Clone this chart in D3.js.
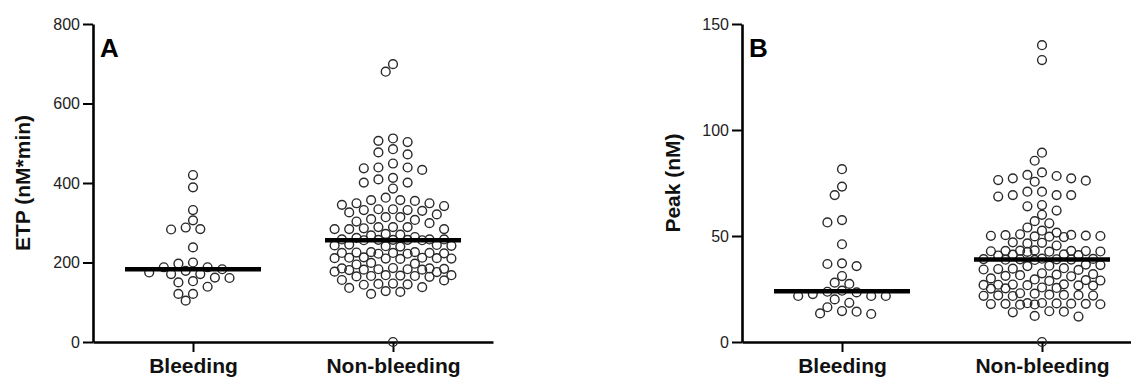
<!DOCTYPE html>
<html><head><meta charset="utf-8">
<script src="https://cdn.jsdelivr.net/npm/d3@7"></script>
<style>
body{margin:0;background:#fff}
text{font-family:"Liberation Sans",Arial,Helvetica,sans-serif}
</style>
</head><body>
<svg id="c" width="1131" height="378"></svg>
<script>
const categories = ["Bleeding", "Non-bleeding"];

const etpBleeding = [420,389,332,306,288,283,284,238,200,197,188,188,183,179,175,171,171,162,161,153,150,139,121,121,104];
const etpNonBleeding = [699,680,
  512,503,506,472,477,485,437,439,439,449,433,413,401,409,401,386,
  357,363,349,349,355,357,345,342,334,332,330,321,326,332,334,314,307,309,314,299,303,
  289,286,284,284,284,289,289,270,272,268,264,262,
  258,257,256,258,257,256,258,257,
  245,242,240,243,241,244,
  226,224,222,225,223,224,226,222,224,
  213,211,210,212,211,209,212,210,
  199,197,195,
  185,183,182,184,186,181,183,185,182,
  177,176,
  168,166,165,167,164,166,168,
  156,155,
  147,145,146,144,
  138,136,
  128,126,
  121,
  0];

const peakBleeding = [81.5,73.3,69.3,57.5,56.4,46.1,36.8,35.8,37.1,31.1,27.4,28,24.2,23.7,23.4,22.6,21.7,21.7,21.7,20.1,18.5,16.4,14.3,13.2,13.5,14.6];
const peakNonBleeding = [140,133,
  89.3,85.5,80,78.3,78.8,76.1,77.2,75.6,76.4,77.2,
  69.3,70.9,68.6,70.9,69.3,69.3,
  62,64,64.6,60,
  57,56,54,52.5,51.6,
  50.5,50,49.7,50.2,49.5,50.8,50.1,49.8,50.4,
  47,46.5,46.8,45.5,
  43,42.6,42.9,43.2,42.8,42.5,43.1,42.7,43,
  41,41.3,40.8,41.2,
  39,39.2,38.8,39.1,38.9,39.3,38.7,39,
  36.3,35.8,36,36.5,
  34.4,34.2,34.6,34,34.8,
  31,32.4,31.5,31.8,32,31.2,
  30,29.5,
  29.2,29,28.8,
  26.9,27,26.7,27.2,26.8,27.1,26.6,
  25.5,25.3,25.7,25.2,
  23,22.8,
  22,22.2,21.8,22.1,21.9,22.3,21.7,
  18,18.2,17.8,18.1,17.9,18.3,17.7,18.4,17.6,18,
  14.3,14.5,14,
  12,12.3,
  0];

const etpTicks = [0, 200, 400, 600, 800];
const peakTicks = [0, 50, 100, 150];

const panels = [
  {letter:"A", title:"ETP (nM*min)", domain:[0,800], ticks:etpTicks, series:[etpBleeding, etpNonBleeding], x0:93, x1:493, titleX:30},
  {letter:"B", title:"Peak (nM)", domain:[0,150], ticks:peakTicks, series:[peakBleeding, peakNonBleeding], x0:742, x1:1142, titleX:680}
];

const svg = d3.select("#c");
const plotTop = 24, plotBottom = 342;
const step = 7.3, minD = 9.5, maxK = 8, medHalf = 68;

function swarm(values, y, cx) {
  const pts = values.map(v => ({v, y: y(v)})).sort((a, b) => a.y - b.y);
  const placed = [];
  const order = [0];
  for (let k = 1; k <= maxK; k++) order.push(-k, k);
  for (const p of pts) {
    let best = null, bestD = -1;
    for (const k of order) {
      const x = cx + k * step;
      let dmin = Infinity;
      for (const q of placed) {
        const d = Math.hypot(q.x - x, q.y - p.y);
        if (d < dmin) dmin = d;
      }
      if (dmin >= minD) { best = x; break; }
      if (dmin > bestD + 0.01) { bestD = dmin; best = x; }
    }
    p.x = best; placed.push(p);
  }
  return placed;
}

panels.forEach(P => {
  const g = svg.append("g");
  const y = d3.scaleLinear().domain(P.domain).range([plotBottom, plotTop]);
  const x = d3.scalePoint().domain(categories).range([P.x0, P.x1]).padding(0.5);

  const ya = g.append("g").attr("transform", `translate(${P.x0},0)`)
    .call(d3.axisLeft(y).tickValues(P.ticks).tickSize(10).tickSizeOuter(0).tickPadding(3));
  ya.select(".domain").attr("stroke", "#000").attr("stroke-width", 2.6);
  ya.selectAll(".tick line").attr("stroke", "#000").attr("stroke-width", 2);
  ya.selectAll(".tick text").attr("font-size", 16).attr("fill", "#222")
    .attr("font-family", "Liberation Sans, Arial, sans-serif");

  const xa = g.append("g").attr("transform", `translate(0,${plotBottom})`)
    .call(d3.axisBottom(x).tickSize(10).tickSizeOuter(0));
  xa.select(".domain").attr("stroke", "#000").attr("stroke-width", 2.6);
  xa.selectAll(".tick line").attr("stroke", "#000").attr("stroke-width", 2);
  xa.selectAll(".tick text").attr("font-size", 21).attr("font-weight", "bold")
    .attr("fill", "#111").attr("y", 31).attr("dy", 0)
    .attr("font-family", "Liberation Sans, Arial, sans-serif");

  g.append("text").attr("transform", `translate(${P.titleX},${(plotTop + plotBottom) / 2}) rotate(-90)`)
    .attr("text-anchor", "middle").attr("font-size", 21).attr("font-weight", "bold")
    .attr("fill", "#111").text(P.title);

  g.append("text").attr("x", P.x0 + 7).attr("y", 57).attr("font-size", 26)
    .attr("font-weight", "bold").attr("fill", "#000").text(P.letter);

  P.series.forEach((vals, i) => {
    const cx = x(categories[i]);
    const pts = swarm(vals, y, cx);
    g.append("g").selectAll("circle").data(pts).join("circle")
      .attr("cx", d => d.x).attr("cy", d => d.y).attr("r", 4.4)
      .attr("fill", "none").attr("stroke", "#2a2a2a").attr("stroke-width", 1.4);
    const m = d3.median(vals);
    g.append("line").attr("x1", cx - medHalf).attr("x2", cx + medHalf)
      .attr("y1", y(m)).attr("y2", y(m)).attr("stroke", "#000").attr("stroke-width", 4.5);
  });
});
</script>
</body></html>
